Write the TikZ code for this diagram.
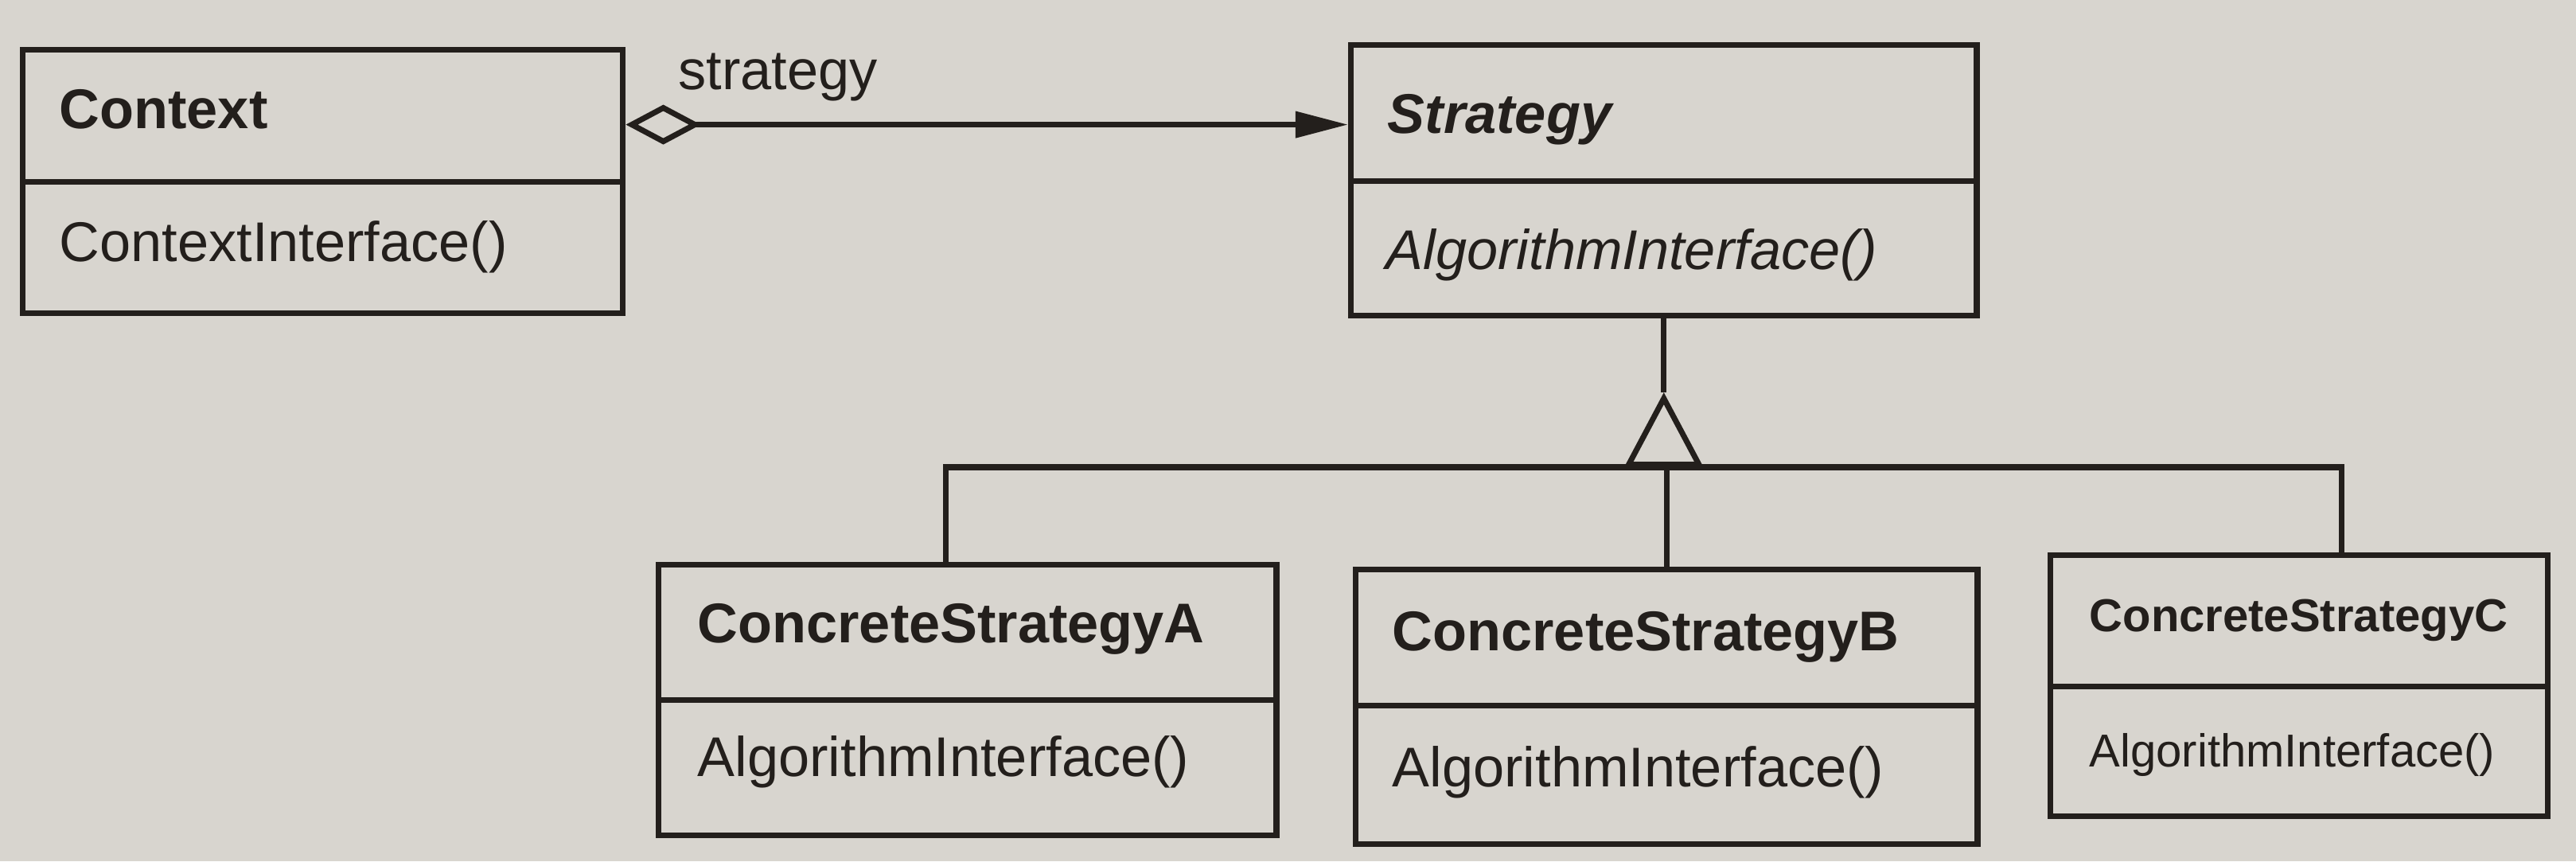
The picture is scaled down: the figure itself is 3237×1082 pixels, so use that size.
\documentclass[tikz,border=0pt]{standalone}
\usepackage{fontspec}
\setmainfont{Liberation Sans}
\usetikzlibrary{arrows.meta}
\definecolor{paper}{RGB}{216,213,207}
\definecolor{ink}{RGB}{35,31,28}
\begin{document}
\begin{tikzpicture}[x=0.01cm,y=-0.01cm,
  box/.style={draw=ink, line width=2pt, anchor=north west, inner sep=0pt, fill=paper},
  cname/.style={anchor=base west, inner sep=0pt, text=ink, font=\fontsize{20}{24}\selectfont\bfseries},
  cop/.style={anchor=base west, inner sep=0pt, text=ink, font=\fontsize{20}{24}\selectfont},
  cnamesm/.style={cname, font=\fontsize{16.5}{20}\selectfont\bfseries},
  copsm/.style={cop, font=\fontsize{16.5}{20}\selectfont},
  conn/.style={draw=ink, line width=2pt},
]
\fill[paper] (0,0) rectangle (3237,1082);
\useasboundingbox (0,0) rectangle (3237,1082);

% Context
\node[box, minimum width=7.54cm, minimum height=1.66cm] (ctxh) at (25,59) {};
\node[box, minimum width=7.54cm, minimum height=1.65cm] (ctxb) at (25,225) {};
\node[cname] (ctxn) at (74,162) {Context};
\node[cop] (ctxo) at (74,328) {ContextInterface()};

% Strategy
\node[box, minimum width=7.86cm, minimum height=1.71cm] (strh) at (1694,53) {};
\node[box, minimum width=7.86cm, minimum height=1.69cm] (strb) at (1694,224) {};
\node[cname] (strn) at (1743,168) {\itshape Strategy};
\node[cop] (stro) at (1741,338) {\itshape AlgorithmInterface()};

% ConcreteStrategyA
\node[box, minimum width=7.76cm, minimum height=1.70cm] (ah) at (824,706) {};
\node[box, minimum width=7.76cm, minimum height=1.70cm] (ab) at (824,876) {};
\node[cname] (an) at (876,807) {ConcreteStrategyA};
\node[cop] (ao) at (876,975) {AlgorithmInterface()};

% ConcreteStrategyB
\node[box, minimum width=7.81cm, minimum height=1.71cm] (bh) at (1700,712) {};
\node[box, minimum width=7.81cm, minimum height=1.74cm] (bb) at (1700,883) {};
\node[cname] (bn) at (1749,817) {ConcreteStrategyB};
\node[cop] (bo) at (1749,988) {AlgorithmInterface()};

% ConcreteStrategyC
\node[box, minimum width=6.25cm, minimum height=1.65cm] (ch) at (2573,694) {};
\node[box, minimum width=6.25cm, minimum height=1.63cm] (cb) at (2573,859) {};
\node[cnamesm] (cn) at (2625,793) {ConcreteStrategyC};
\node[copsm] (co) at (2625,963) {AlgorithmInterface()};

% aggregation
\draw[conn, {Diamond[open,length=0.94cm,width=0.5cm]}-{Triangle[length=0.66cm,width=0.32cm]}]
  ([yshift=-0.11cm]ctxh.east) -- ([yshift=-0.11cm]ctxh.east -| strh.west);
\node[cop] (lbl) at (852,113) {strategy};

% generalization
\coordinate (apex) at (strb.south |- 0,493);
\coordinate (hub) at (strb.south |- 0,587);
\draw[conn] (strb.south) -- (apex);
\draw[conn, -{Triangle[open,length=0.94cm,width=0.98cm]}] (hub) -- (apex);
\draw[conn] ([xshift=-0.27cm]ah.north) |- (hub) -| ([xshift=0.535cm]ch.north);
\draw[conn] (bh.north) -- (bh.north |- hub);
\end{tikzpicture}
\end{document}
